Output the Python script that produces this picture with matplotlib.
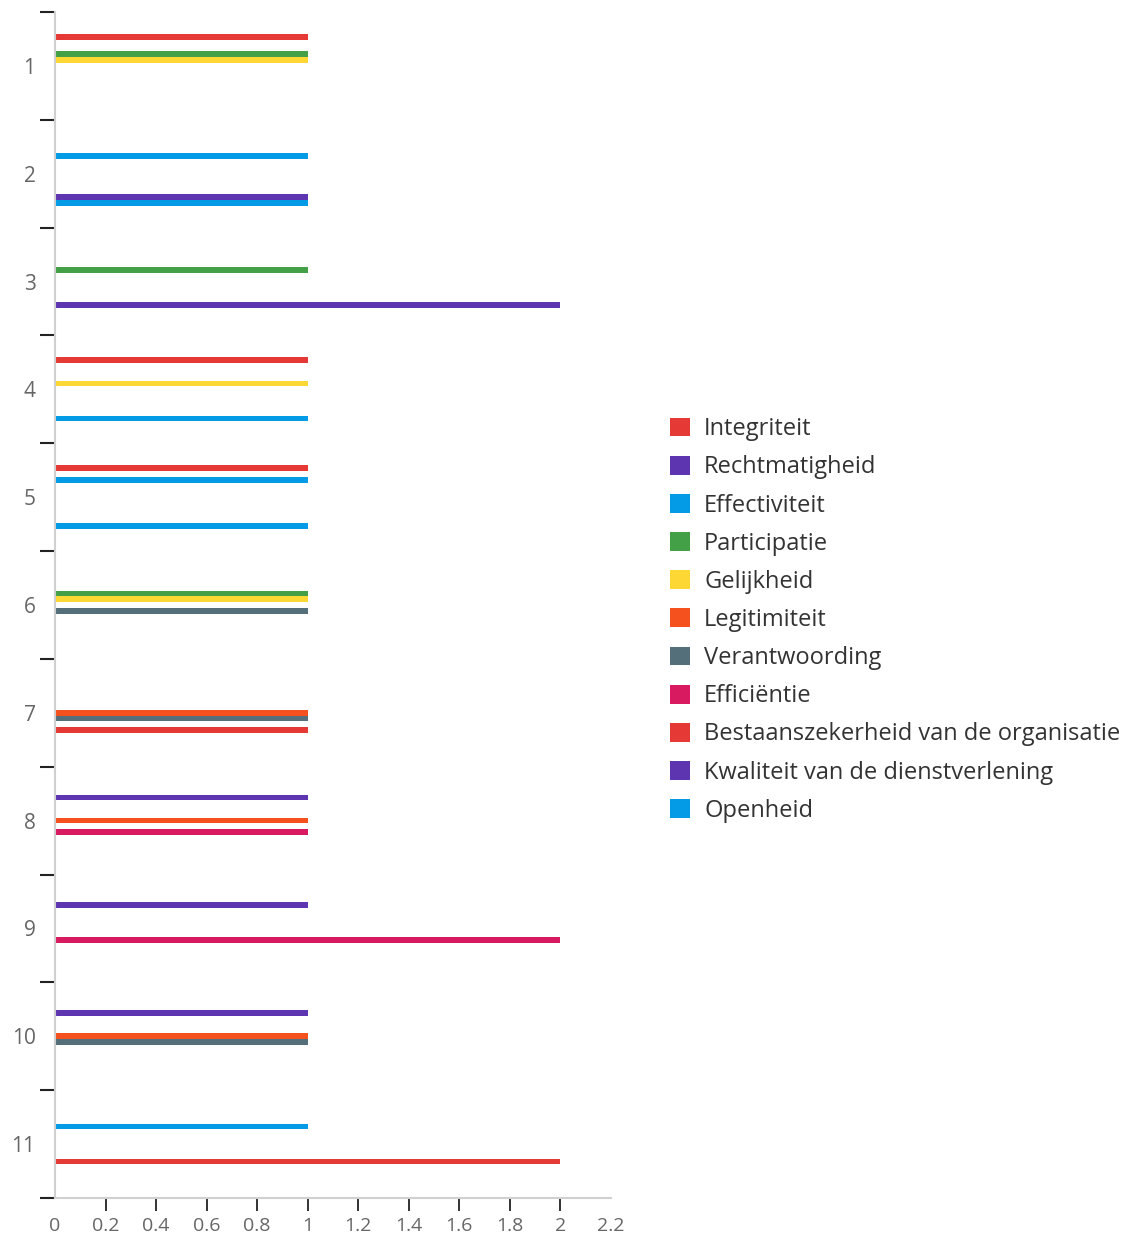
import numpy as np
import matplotlib
matplotlib.use('Agg')
import matplotlib.pyplot as plt
from matplotlib.patches import Patch

plt.rcParams['font.family'] = ['Open Sans', 'DejaVu Sans']

# categorieen (1 t/m 11)
categories = ['1', '2', '3', '4', '5', '6', '7', '8', '9', '10', '11']

series_names = ['Integriteit', 'Rechtmatigheid', 'Effectiviteit', 'Participatie',
                'Gelijkheid', 'Legitimiteit', 'Verantwoording', 'Efficiëntie',
                'Bestaanszekerheid van de organisatie',
                'Kwaliteit van de dienstverlening', 'Openheid']

colors = ['#e53935', '#5e35b1', '#039be5', '#43a047', '#fdd835', '#f4511e',
          '#546e7a', '#d81b60', '#e53935', '#5e35b1', '#039be5']

# waarden per serie, per categorie
integriteit       = [1, 0, 0, 1, 1, 0, 0, 0, 0, 0, 0]
rechtmatigheid    = [0, 0, 0, 0, 0, 0, 0, 1, 1, 1, 0]
effectiviteit     = [0, 1, 0, 0, 1, 0, 0, 0, 0, 0, 1]
participatie      = [1, 0, 1, 0, 0, 1, 0, 0, 0, 0, 0]
gelijkheid        = [1, 0, 0, 1, 0, 1, 0, 0, 0, 0, 0]
legitimiteit      = [0, 0, 0, 0, 0, 0, 1, 1, 0, 1, 0]
verantwoording    = [0, 0, 0, 0, 0, 1, 1, 0, 0, 1, 0]
efficientie       = [0, 0, 0, 0, 0, 0, 0, 1, 2, 0, 0]
bestaanszekerheid = [0, 0, 0, 0, 0, 0, 1, 0, 0, 0, 2]
kwaliteit         = [0, 1, 2, 0, 0, 0, 0, 0, 0, 0, 0]
openheid          = [0, 1, 0, 1, 1, 0, 0, 0, 0, 0, 0]

values = [integriteit, rechtmatigheid, effectiviteit, participatie, gelijkheid,
          legitimiteit, verantwoording, efficientie, bestaanszekerheid,
          kwaliteit, openheid]

fig = plt.figure(figsize=(11.43, 12.34), dpi=100)
W, H = 1143, 1234
ax = fig.add_axes([55 / W, 1 - 1198 / H, (611 - 55) / W, (1198 - 12) / H])

y = np.arange(len(categories))
slot = 0.054
for i, (vals, c) in enumerate(zip(values, colors)):
    v = np.array(vals, dtype=float)
    mask = v > 0
    ax.barh(y[mask] + (i - 5) * slot, v[mask], height=slot * 0.97, color=c)

ax.set_xlim(0, 2.2)
ax.set_ylim(len(categories) - 0.5, -0.5)

# x-as
xt = np.round(np.arange(0, 2.21, 0.2), 1)
ax.set_xticks(xt)
ax.set_xticklabels(['%g' % v for v in xt])
ax.tick_params(axis='x', length=9, width=1.3, color='#222222', labelcolor='#666666',
               labelsize=14, pad=5)
xlines = ax.xaxis.get_ticklines()
for k in [0, 1, len(xlines) - 2, len(xlines) - 1]:
    xlines[k].set_visible(False)

# y-as: streepjes tussen de groepen, labels in het midden
ax.set_yticks(np.arange(-0.5, len(categories), 1.0))
ax.set_yticklabels([])
ax.set_yticks(y, minor=True)
ax.set_yticklabels(categories, minor=True)
ax.tick_params(axis='y', which='major', length=11, width=1.5, color='#222222')
ax.tick_params(axis='y', which='minor', length=0, labelcolor='#666666', labelsize=15, pad=14)

for s in ['top', 'right']:
    ax.spines[s].set_visible(False)
ax.spines['left'].set_color('#d0d0d0')
ax.spines['bottom'].set_color('#d0d0d0')
ax.spines['left'].set_linewidth(1.5)
ax.spines['bottom'].set_linewidth(1.5)

handles = [Patch(facecolor=c, label=n) for n, c in zip(series_names, colors)]
fig.legend(handles=handles, loc='center left', bbox_to_anchor=(670 / W, 1 - 620 / H),
           frameon=False, fontsize=17, handlelength=0.85, handleheight=0.85,
           handletextpad=0.6, labelspacing=0.6, borderpad=0, borderaxespad=0,
           labelcolor='#333333')

fig.savefig('out.png', dpi=100)
